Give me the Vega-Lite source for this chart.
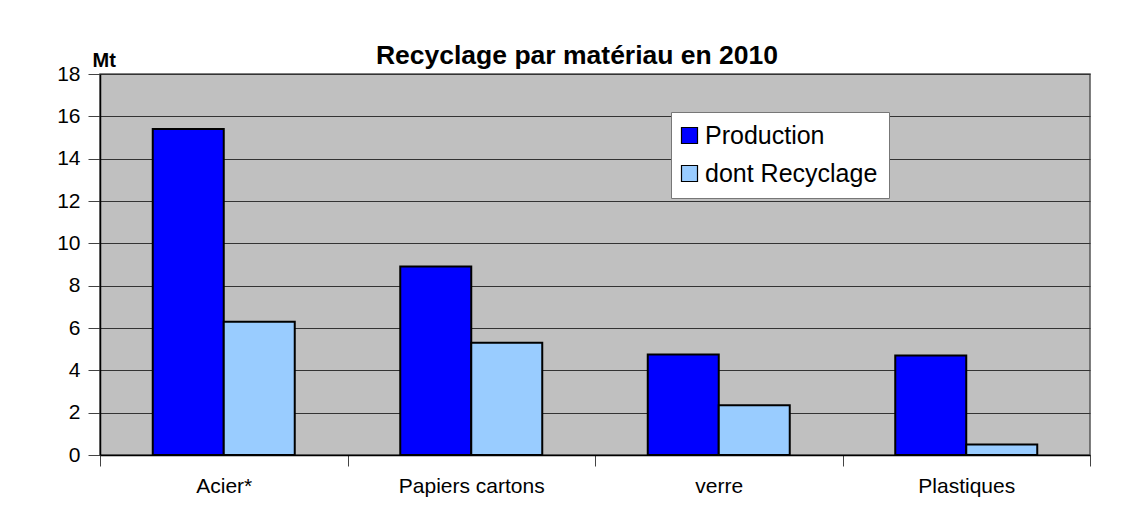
{
  "$schema": "https://vega.github.io/schema/vega-lite/v6.json",
  "width": 990,
  "height": 381,
  "autosize": {"type": "none"},
  "padding": {"left": 100, "top": 74, "right": 41, "bottom": 56},
  "background": "white",
  "title": {
    "text": "Recyclage par matériau en 2010",
    "font": "Liberation Sans",
    "fontSize": 26.5,
    "fontWeight": "bold",
    "color": "black",
    "anchor": "middle",
    "dx": -18,
    "dy": 47,
    "baseline": "alphabetic",
    "offset": 7
  },
  "data": {
    "values": [
      {"materiau": "Acier*", "serie": "Production", "mt": 15.4},
      {"materiau": "Acier*", "serie": "dont Recyclage", "mt": 6.3},
      {"materiau": "Papiers cartons", "serie": "Production", "mt": 8.9},
      {"materiau": "Papiers cartons", "serie": "dont Recyclage", "mt": 5.3},
      {"materiau": "verre", "serie": "Production", "mt": 4.75},
      {"materiau": "verre", "serie": "dont Recyclage", "mt": 2.35},
      {"materiau": "Plastiques", "serie": "Production", "mt": 4.7},
      {"materiau": "Plastiques", "serie": "dont Recyclage", "mt": 0.5}
    ]
  },
  "mark": {"type": "bar", "stroke": "black", "strokeWidth": 2},
  "encoding": {
    "x": {
      "field": "materiau",
      "type": "nominal",
      "sort": ["Acier*", "Papiers cartons", "verre", "Plastiques"],
      "scale": {"paddingInner": 0, "paddingOuter": 0},
      "axis": {
        "title": null,
        "labelAngle": 0,
        "labelFont": "Liberation Sans",
        "labelFontSize": 21,
        "labelColor": "black",
        "labelPadding": 9,
        "tickBand": "extent",
        "tickSize": 11,
        "tickColor": "#444",
        "domainColor": "black",
        "domainWidth": 1.5,
        "grid": false
      }
    },
    "xOffset": {
      "field": "serie",
      "type": "nominal",
      "sort": ["Production", "dont Recyclage"],
      "scale": {"paddingInner": 0, "paddingOuter": 0.743}
    },
    "y": {
      "field": "mt",
      "type": "quantitative",
      "scale": {"domain": [0, 18], "nice": false},
      "axis": {
        "title": "Mt",
        "titleAngle": 0,
        "titleX": -8,
        "titleY": -8,
        "titleAlign": "left",
        "titleBaseline": "alphabetic",
        "titleFont": "Liberation Sans",
        "titleFontSize": 20,
        "titleFontWeight": "bold",
        "titleColor": "black",
        "values": [0, 2, 4, 6, 8, 10, 12, 14, 16, 18],
        "labelFont": "Liberation Sans",
        "labelFontSize": 21,
        "labelColor": "black",
        "labelPadding": 8,
        "tickSize": 12,
        "tickColor": "#444",
        "domainColor": "black",
        "domainWidth": 1.5,
        "grid": true,
        "gridColor": "#333",
        "gridWidth": 1
      }
    },
    "color": {
      "field": "serie",
      "type": "nominal",
      "sort": ["Production", "dont Recyclage"],
      "scale": {"domain": ["Production", "dont Recyclage"], "range": ["#0000FF", "#99CCFF"]},
      "legend": {
        "title": null,
        "orient": "none",
        "legendX": 571,
        "legendY": 38,
        "padding": 11,
        "fillColor": "white",
        "strokeColor": "#777",
        "symbolType": "square",
        "symbolSize": 256,
        "symbolOffset": -5,
        "symbolStrokeColor": "black",
        "symbolStrokeWidth": 1.2,
        "labelFont": "Liberation Sans",
        "labelFontSize": 25,
        "labelColor": "black",
        "labelOffset": 3,
        "labelLimit": 400,
        "rowPadding": 12
      }
    }
  },
  "config": {
    "view": {"fill": "#C0C0C0", "stroke": "#555", "strokeWidth": 1.5}
  }
}
